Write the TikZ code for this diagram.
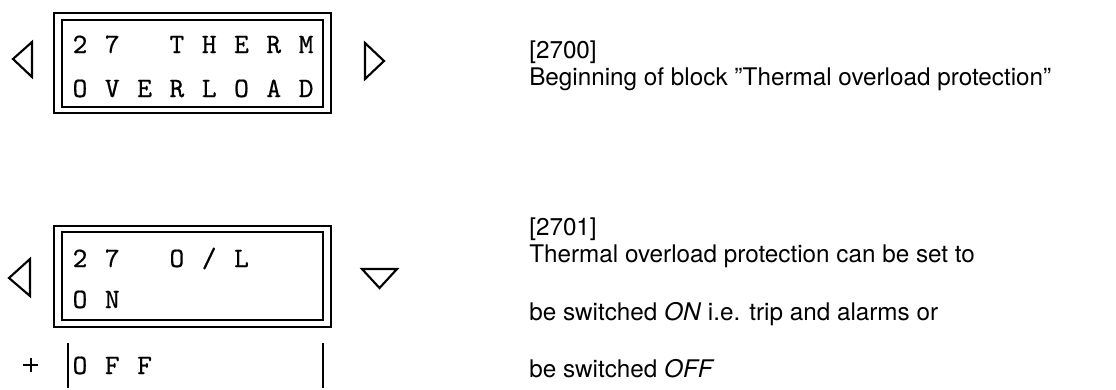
\documentclass[tikz,border=0pt]{standalone}
\usepackage{fontspec}
\setsansfont{TeX Gyre Heros}
\newfontfamily\lcdfont{lmmono10-regular.otf}[FakeBold=0.6]
\tikzset{
  frame/.style={draw, line width=1.5pt},
  tri/.style={draw, line width=1.6pt, line join=miter},
  bar/.style={draw, line width=1.5pt},
  lcd/.style={font=\fontsize{21}{21}\selectfont\lcdfont, anchor=base, inner sep=0pt},
  desc/.style={font=\fontsize{18.2}{18.2}\selectfont\sffamily, anchor=base west, inner sep=0pt},
}
\newcommand\lcdrow[3]{\foreach \c [count=\i from 0] in {#3} {\node[lcd] (#1-\i) at ({80+\i*32.3},#2) {\c};}}
\begin{document}
\begin{tikzpicture}[x=0.75pt,y=-0.75pt]
\useasboundingbox (0,0) rectangle (1116,389);
% top display
\draw[frame] (54,13) rectangle (331,113);
\draw[frame] (62,20) rectangle (323,107);
\lcdrow{ta}{53}{2,7,{},T,H,E,R,M}
\lcdrow{tb}{97}{O,V,E,R,L,O,A,D}
\draw[tri] (13,59) -- (32,42) -- (32,77) -- cycle;
\draw[tri] (384,61) -- (365,43) -- (365,79) -- cycle;
% bottom display
\draw[frame] (54,226) rectangle (331,327);
\draw[frame] (62,232) rectangle (323,320);
\lcdrow{ba}{267}{2,7,{},O,{/},L}
\lcdrow{bb}{308}{O,N}
\lcdrow{bc}{374}{O,F,F}
\draw[tri] (9,278) -- (30,259) -- (30,296) -- cycle;
\draw[tri] (362,269) -- (397,269) -- (379.5,288) -- cycle;
\draw[bar] (68,343) -- (68,388);
\draw[bar] (323,343) -- (323,388);
\draw[bar] (23,365) -- (38,365);
\draw[bar] (30.5,358) -- (30.5,372);
% descriptions
\node[desc] (d1) at (529,58) {[2700]};
\node[desc] (d2) at (529,85) {Beginning of block ”Thermal overload protection”};
\node[desc] (d3) at (529,235) {[2701]};
\node[desc] (d4) at (529,262) {Thermal overload protection can be set to};
\node[desc] (d5) at (529,320) {be switched \textit{ON} i.e. trip and alarms or};
\node[desc] (d6) at (529,377) {be switched \textit{OFF}};
\end{tikzpicture}
\end{document}
